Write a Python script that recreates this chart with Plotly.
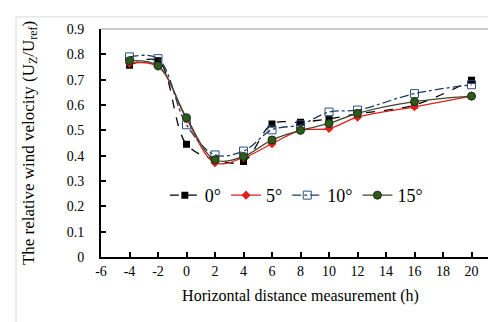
import plotly.graph_objects as go

x_vals = [-4, -2, 0, 2, 4, 6, 8, 10, 12, 16, 20]
deg0 = [0.757, 0.775, 0.445, 0.385, 0.377, 0.525, 0.532, 0.545, 0.565, 0.600, 0.698]
deg5 = [0.765, 0.752, 0.545, 0.372, 0.392, 0.447, 0.500, 0.507, 0.552, 0.593, 0.635]
deg10 = [0.790, 0.783, 0.522, 0.403, 0.418, 0.502, 0.522, 0.572, 0.580, 0.645, 0.680]
deg15 = [0.775, 0.755, 0.550, 0.384, 0.397, 0.462, 0.500, 0.527, 0.567, 0.613, 0.635]
names = ["0°", "5°", "10°", "15°"]
x_ticks = list(range(-6, 23, 2))
x_ticktext = [str(v) for v in x_ticks]
y_ticks = [0, 0.1, 0.2, 0.3, 0.4, 0.5, 0.6, 0.7, 0.8, 0.9]
y_ticktext = ["0", "0.1", "0.2", "0.3", "0.4", "0.5", "0.6", "0.7", "0.8", "0.9"]

FONT = "Liberation Serif"
fig = go.Figure()
fig.add_trace(go.Scatter(x=x_vals, y=deg0, name=names[0], mode="lines+markers",
                         line=dict(color="black", width=1.3, dash="dash", shape="spline"),
                         marker=dict(symbol="square", size=7, color="black")))
fig.add_trace(go.Scatter(x=x_vals, y=deg5, name=names[1], mode="lines+markers",
                         line=dict(color="#e0201b", width=1.3, shape="spline"),
                         marker=dict(symbol="diamond", size=7, color="#e0201b")))
fig.add_trace(go.Scatter(x=x_vals, y=deg10, name=names[2], mode="lines+markers",
                         line=dict(color="#1f3a60", width=1.3, dash="dashdot", shape="spline"),
                         marker=dict(symbol="square-open", size=8, color="#2f5080", line=dict(width=1))))
fig.add_trace(go.Scatter(x=x_vals, y=deg15, name=names[3], mode="lines+markers",
                         line=dict(color="#3a4a30", width=1.3, shape="spline"),
                         marker=dict(symbol="circle", size=8, color="#2e5a1c",
                                     line=dict(color="#1a2e10", width=1))))

fig.update_layout(
    width=496, height=322,
    margin=dict(l=93, r=4, t=21, b=73),
    paper_bgcolor="white", plot_bgcolor="white",
    font=dict(family=FONT, size=14, color="black"),
    showlegend=True,
    legend=dict(orientation="h", x=0.16, y=0.27, xanchor="left", yanchor="middle",
                font=dict(family=FONT, size=18), bgcolor="rgba(0,0,0,0)",
                itemwidth=30, tracegroupgap=0),
    xaxis=dict(range=[-6, 22], tickmode="array", tickvals=x_ticks, ticktext=x_ticktext,
               ticks="inside", ticklen=5, tickwidth=1.5, tickcolor="black",
               showline=True, linecolor="black", linewidth=2, showgrid=False, zeroline=False,
               tickfont=dict(family=FONT, size=14),
               title=dict(text="Horizontal distance measurement (h)",
                          font=dict(family=FONT, size=16), standoff=12)),
    yaxis=dict(range=[0, 0.9], tickmode="array", tickvals=y_ticks, ticktext=y_ticktext,
               ticks="inside", ticklen=5, tickwidth=1.5, tickcolor="black",
               showline=True, linecolor="black", linewidth=2, showgrid=False, zeroline=False,
               tickfont=dict(family=FONT, size=14), ticklabelstandoff=12,
               title=dict(text="The relative wind velocity (U<sub>Z</sub>/U<sub>ref</sub>)",
                          font=dict(family=FONT, size=17), standoff=28)),
    shapes=[
        dict(type="line", xref="paper", yref="paper", x0=0, x1=1, y0=1, y1=1,
             line=dict(color="#bbbbbb", width=1.5)),
        dict(type="line", xref="paper", yref="paper", x0=1, x1=1, y0=0, y1=1,
             line=dict(color="#555555", width=1.5)),
        dict(type="rect", xref="paper", yref="paper", x0=-0.213, x1=1.5, y0=-1, y1=1.053,
             line=dict(color="#d8d8d8", width=1), layer="below"),
    ],
)

fig.write_html("out.html")
